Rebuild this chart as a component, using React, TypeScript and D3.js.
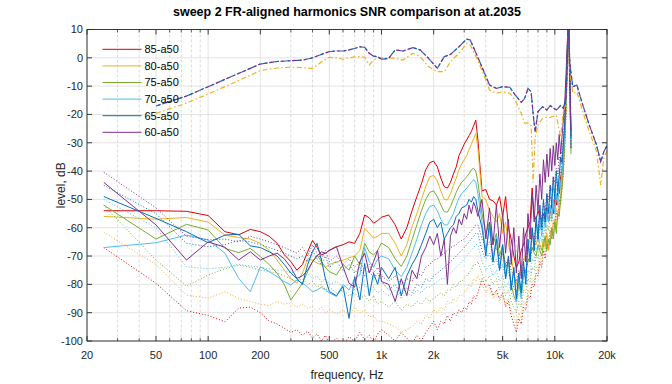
import React from 'react';
import * as d3 from 'd3';

// frequency bins (Hz) shared by all harmonic / noise traces
const freqs = [
  25, 50, 75, 100, 125, 150, 175, 200, 225, 250,
  275, 300, 325, 350, 375, 400, 425, 450, 475, 500,
  550, 600, 650, 700, 750, 800, 850, 900, 950, 1000,
  1100, 1200, 1300, 1400, 1500, 1600, 1700, 1800, 1900, 2000,
  2100, 2200, 2300, 2400, 2500, 2600, 2700, 2800, 2900, 3000,
  3100, 3200, 3300, 3400, 3500, 3600, 3800, 4000, 4200, 4400,
  4600, 4800, 5000, 5200, 5400, 5600, 5800, 6000, 6200, 6400,
  6600, 6800, 7000, 7200, 7400, 7600, 7800, 8000, 8200, 8400,
  8600, 8800, 9000, 9200, 9400, 9600, 9800, 10000, 10200, 10400,
  10600, 10800, 11000, 11200, 11400, 11600, 11800, 12000, 12200, 12400,
];

// harmonics (solid)
const h85 = [
  -54, -54, -54.2, -55.7, -61.4, -62.5, -60.6, -61.4, -63, -65.5,
  -69.5, -72, -75, -73, -68.5, -64.5, -67, -69.6, -69, -68,
  -66.7, -66, -65, -65.5, -62, -55.5, -56.5, -58.4, -57.5, -56.3,
  -55.5, -59, -64, -60, -54, -49, -44.5, -39.5, -37, -36.5,
  -38.5, -42.5, -45.5, -46, -44, -41, -38.5, -34.5, -32.5, -30.5,
  -29, -27.5, -26, -24, -22, -29, -47, -46.5, -50, -50.5,
  -52, -49, -56, -49, -60, -64, -70, -74, -72, -68,
  -66, -62, -60, -58, -46, -56, -57, -54, -56, -58,
  -55, -57, -53, -58, -55, -52, -55, -50, -52, -47,
  -48, -42, -40, -34, -25, -12, 2, 18, -5, -28,
];
const h80 = [
  -56, -57, -56.4, -58, -62.6, -63.5, -64, -65.5, -68, -71.4,
  -75, -78, -79.5, -76, -71, -71.5, -72.5, -73, -74, -73,
  -72, -71.5, -70.6, -70, -68, -60.2, -62, -63.7, -63, -62,
  -62, -65.5, -70, -66, -59.6, -55, -50, -45.5, -42, -41.5,
  -43.5, -47, -50, -50.2, -48, -45, -42.5, -39.5, -37.5, -36,
  -34.5, -32.5, -30.5, -28.5, -26.7, -32, -49, -50, -54, -56,
  -58, -55, -62, -58, -66, -70, -76, -80, -77, -74,
  -72, -69, -67, -64, -60, -65, -66, -63, -66, -68,
  -64, -67, -62, -68, -64, -60, -63, -57, -60, -54,
  -55, -48, -44, -38, -28, -15, 0, 16, -10, -32,
];
const h75 = [
  -52, -64, -58.8, -60.8, -67.3, -68.8, -67.3, -70.2, -73, -76.1,
  -80, -85.5, -82.5, -79.6, -75.5, -72, -69.6, -72, -74, -75.5,
  -76.7, -73, -75, -70, -73, -65.5, -68.5, -69.6, -68, -65.4,
  -67, -71, -73.7, -70, -64.3, -59, -54, -50, -47.5, -47,
  -49, -52, -54.3, -54.5, -52.5, -50, -47.5, -45.5, -44, -43,
  -42, -41, -39.5, -39, -40, -44, -55, -62, -58, -66,
  -62, -70, -66, -74, -72, -80, -84, -86, -80, -84,
  -77, -75, -72, -70, -67, -69, -70, -66, -68, -70,
  -66, -63, -68, -64, -66, -60, -64, -58, -62, -55,
  -56, -50, -46, -40, -30, -18, -2, 15, -12, -34,
];
const h70 = [
  -67, -65.3, -62.6, -64.3, -69, -77.9, -82.6, -73.8, -75.5, -77.3,
  -79, -80.2, -78.5, -79.6, -81, -82.6, -82, -81, -82, -83,
  -84.3, -80, -82, -78, -76.7, -67, -72, -74, -71, -70,
  -71, -75, -77.3, -74, -69, -64, -59, -55, -52.5, -52,
  -54, -57, -59, -59, -57, -55, -52, -49.5, -48, -47,
  -46, -45, -44, -43, -44, -48, -58, -68, -60, -72,
  -63, -75, -67, -78, -71, -82, -75, -86, -78, -85,
  -74, -78, -66, -72, -60, -68, -58, -65, -56, -63,
  -56, -60, -54, -58, -52, -57, -50, -55, -48, -52,
  -44, -46, -40, -35, -26, -14, 0, 15, -8, -30,
];
const h65 = [
  -49, -56.7, -61.4, -65.3, -62.6, -62.3, -66.4, -67, -68.5, -70,
  -73, -76, -78, -80, -73, -68.5, -65.5, -71.4, -78, -82.5,
  -84, -80.8, -92, -77.3, -85.5, -72.6, -84, -76, -80, -74,
  -78, -74, -84, -77, -73, -70, -66, -62, -58, -57,
  -60, -58, -64, -62, -60, -59, -56, -55, -53, -52.6,
  -52, -50, -51, -49, -50, -54, -60, -70, -58, -72,
  -64, -75, -66, -78, -70, -82, -74, -85, -76, -83,
  -72, -80, -64, -72, -60, -68, -56, -64, -52, -60,
  -50, -58, -48, -55, -45, -52, -42, -50, -40, -47,
  -42, -35, -37, -30, -24, -12, 3, 18, -5, -28,
];
const h60 = [
  -44, -59, -71.4, -65, -66.9, -71.4, -68.5, -71.4, -70, -69,
  -71, -74, -77.9, -77, -75, -72, -70, -68.5, -69, -68,
  -66.7, -73.8, -79.6, -81, -72, -69, -76, -72, -68, -79,
  -80, -86, -78, -84, -75, -78, -70, -67, -63, -66,
  -62, -70, -64, -80, -63, -60, -62, -57, -59, -55,
  -57, -52, -55, -51, -53, -56, -50, -64, -53, -66,
  -52, -67, -55, -69, -57, -73, -60, -76, -63, -78,
  -60, -72, -55, -64, -48, -58, -45, -54, -41, -50,
  -36, -44, -34, -42, -32, -40, -31, -38, -30, -36,
  -27, -34, -28, -22, -16, -6, 5, 18, -4, -26,
];

// noise floors (dotted)
const n85 = [
  -67, -79.6, -89.3, -91, -93.2, -88.4, -88, -90, -93, -94,
  -95.5, -97, -96, -98, -96.5, -99, -97.5, -100, -98, -101,
  -99, -101.5, -98.5, -100, -97, -99.5, -98, -100.5, -97.5, -96,
  -98, -100, -97, -99, -101, -98, -100, -97, -95, -93,
  -96, -93, -94, -91, -93, -90, -91, -89, -90, -88,
  -89, -86, -87, -84, -85, -83, -78, -81, -80, -84,
  -82, -85, -83, -88, -86, -91, -94, -97, -92, -94,
  -88, -89, -84, -85, -80, -81, -76, -77, -72, -74,
  -68, -71, -65, -67, -61, -64, -58, -60, -54, -57,
  -50, -52, -46, -40, -32, -20, -5, 12, -10, -32,
];
const n80 = [
  -61.6, -73, -83.8, -84.9, -82.6, -85, -86, -87, -87.5, -86,
  -87, -86.5, -88, -87, -88.5, -88, -89.5, -88, -90, -89,
  -90.5, -89, -91, -88, -90, -89, -91.5, -91, -93, -93,
  -94, -95, -97, -96, -95, -93, -94, -91, -92, -89,
  -90, -88, -89, -86, -87, -85, -86, -84, -84, -83,
  -82, -80, -81, -78, -79, -77, -80, -83, -81, -85,
  -83, -86, -84, -87, -85, -89, -91, -94, -90, -92,
  -86, -87, -82, -83, -78, -79, -74, -75, -70, -72,
  -66, -69, -63, -65, -60, -62, -57, -59, -53, -55,
  -49, -51, -45, -39, -31, -19, -4, 12, -10, -32,
];
const n75 = [
  -52, -71.4, -80.6, -76.7, -74.5, -73.2, -74, -75, -75.5, -76,
  -77, -78, -79, -78, -80, -79, -81, -80, -82, -81,
  -83, -82, -84, -83, -85, -84, -86, -84, -87, -86,
  -88, -86, -89, -87, -88, -86, -87, -85, -86, -85,
  -84, -83, -84, -82, -82, -80, -81, -79, -79, -78,
  -77, -76, -75, -73, -73, -72, -76, -79, -77, -80,
  -78, -82, -80, -84, -82, -86, -88, -90, -86, -88,
  -82, -83, -78, -79, -74, -75, -70, -71, -66, -68,
  -62, -65, -59, -61, -56, -58, -53, -55, -49, -51,
  -45, -47, -42, -36, -28, -17, -3, 12, -10, -32,
];
const n70 = [
  -50, -60, -73.8, -74.5, -74, -73, -73.5, -74, -74.5, -75,
  -75, -76, -75, -77, -76, -78, -77, -79, -78, -80,
  -79, -81, -80, -82, -81, -80, -82, -81, -83, -82,
  -84, -82, -85, -83, -84, -82, -83, -81, -81, -80,
  -79, -78, -78, -76, -76, -75, -74, -73, -72, -71,
  -70, -69, -68, -67, -66, -66, -72, -75, -73, -77,
  -75, -79, -77, -81, -79, -83, -85, -87, -83, -85,
  -79, -80, -75, -76, -71, -72, -67, -68, -63, -65,
  -59, -62, -56, -58, -53, -55, -50, -52, -46, -48,
  -42, -44, -39, -34, -26, -15, -2, 12, -10, -32,
];
const n65 = [
  -45, -55, -65.5, -66.7, -66, -64.5, -65, -66, -67, -68,
  -69, -70, -71, -70, -72, -68, -71, -73, -70, -74,
  -72, -75, -73, -76, -74, -77, -75, -78, -76, -79,
  -82, -80, -84, -81, -83, -80, -81, -78, -79, -77,
  -76, -75, -74, -73, -72, -71, -70, -69, -68, -67,
  -66, -65, -64, -63, -62, -62, -68, -71, -69, -73,
  -71, -75, -73, -77, -75, -79, -81, -83, -79, -81,
  -75, -76, -71, -72, -67, -68, -63, -64, -59, -61,
  -55, -58, -52, -54, -49, -51, -46, -48, -43, -45,
  -39, -41, -36, -31, -24, -13, 0, 12, -10, -32,
];
const n60 = [
  -40.4, -53, -63, -64.3, -64, -65, -63, -64, -65, -66,
  -67, -68, -69, -67, -70, -66, -69, -71, -68, -72,
  -70, -73, -71, -74, -72, -75, -73, -76, -74, -77,
  -79, -77, -80, -78, -79, -76, -77, -74, -73, -71.4,
  -71, -70, -69, -68, -67, -66.5, -66, -65, -64.5, -64,
  -63, -62, -61, -60, -59, -59, -64, -67, -65, -69,
  -67, -71, -69, -73, -71, -75, -77, -79, -75, -77,
  -71, -72, -67, -68, -63, -64, -59, -60, -55, -57,
  -51, -54, -48, -50, -45, -47, -42, -44, -39, -41,
  -35, -37, -32, -28, -22, -12, 0, 12, -10, -32,
];

// frequency response curves (dash-dot)
const frFreqs = [
  50, 75, 100, 150, 200, 250, 300, 350, 400, 450,
  500, 550, 600, 650, 700, 750, 800, 850, 900, 950,
  1000, 1100, 1200, 1330, 1520, 1670, 1870, 2100, 2300, 2500,
  2800, 3100, 3250, 3550, 3900, 4200, 4600, 5000, 5500, 5900,
  6400, 6700, 7000, 7300, 7500, 7700, 8000, 8500, 9000, 9400,
  10200, 10800, 11200, 11600, 11800, 12000, 12200, 12700, 13400, 14500,
  15800, 17400, 18400, 19200, 20000,
];
const frUpper = [
  -17, -13.5, -10.2, -5.5, -2.2, -1.3, -1, -0.8, 0, 1.2,
  2.2, 2.4, 2.4, 2.8, 3.3, 3.9, 3.7, 1.6, 0.6, 0.4,
  -0.5, -0.2, 2.8, 2.4, 3.6, 2.8, -0.2, -3.7, 0.4, 1.2,
  3.9, 6.6, 6.3, 1, -4.9, -9.6, -10.8, -10.2, -10.4, -13.1,
  -15.7, -14.3, -10.8, -12, -20, -26.1, -19, -17.3, -18.4, -16.9,
  -18.4, -16.9, -17.8, -14, -2, 12, -2, -10.2, -9.6, -16.7,
  -23.7, -30.8, -36.7, -33.1, -31,
];
const frLower = [
  -19.6, -16, -12.8, -8, -4.5, -3.6, -3.3, -3.5, -3.7, -1.5,
  0.2, 0, -0.5, 0, 0.3, 0.4, 0.2, -2.5, -0.8, 0,
  0, 0, -0.2, -0.8, 1.6, 0.4, -3.1, -4.9, -4.9, -1.4,
  1.6, 5.1, 4.5, -0.2, -6.1, -11.4, -12.5, -12, -12.5, -14.9,
  -19.6, -23.1, -23, -24, -44, -28, -23.7, -21.4, -21, -21,
  -20.3, -28, -19, -16, -4, 10, -5, -12.5, -12, -19,
  -26, -33, -45, -35, -33,
];

const labels = ['85-a50', '80-a50', '75-a50', '70-a50', '65-a50', '60-a50'];
const colors = ['#dd0000', '#EDB120', '#77AC30', '#4DBEEE', '#0072BD', '#7E2F8E'];
const harmonics = [h85, h80, h75, h70, h65, h60];
const noise = [n85, n80, n75, n70, n65, n60];

const xMajor = [20, 50, 100, 200, 500, 1000, 2000, 5000, 10000, 20000];
const xMajorLabels = ['20', '50', '100', '200', '500', '1k', '2k', '5k', '10k', '20k'];
const xMinor = [30, 40, 60, 70, 80, 90, 300, 400, 600, 700, 800, 900, 3000, 4000, 6000, 7000, 8000, 9000];
const yTicks = [10, 0, -10, -20, -30, -40, -50, -60, -70, -80, -90, -100];

const FONT = 'Liberation Sans, Arial, Helvetica, sans-serif';
const AX = '#262626';

export default function App() {
  const left = 87, right = 607, top = 29.5, bottom = 341;
  const x = d3.scaleLog().domain([20, 20000]).range([left, right]);
  const y = d3.scaleLinear().domain([-100, 10]).range([bottom, top]);

  const hLine = d3.line<number>().x((_, i) => x(freqs[i])).y(d => y(d));
  const frLine = d3.line<number>().x((_, i) => x(frFreqs[i])).y(d => y(d));

  return (
    <div style={{ position: 'absolute', left: 0, top: 0 }}>
      <svg width={672} height={384} style={{ display: 'block', background: '#fff' }} fontFamily={FONT}>
        <defs>
          <clipPath id="plot">
            <rect x={left} y={top} width={right - left} height={bottom - top} />
          </clipPath>
        </defs>
        <rect x={0} y={0} width={672} height={384} fill="#fff" />

        {/* grid */}
        {xMinor.map(f => (
          <line key={'mg' + f} x1={x(f)} x2={x(f)} y1={top} y2={bottom} stroke="#d2d2d2" strokeWidth={0.8} strokeDasharray="3 2" />
        ))}
        {xMajor.map(f => (
          <line key={'xg' + f} x1={x(f)} x2={x(f)} y1={top} y2={bottom} stroke="#dcdcdc" strokeWidth={0.8} />
        ))}
        {yTicks.map(v => (
          <line key={'yg' + v} x1={left} x2={right} y1={y(v)} y2={y(v)} stroke="#dcdcdc" strokeWidth={0.8} />
        ))}

        {/* data */}
        <g clipPath="url(#plot)" fill="none">
          {harmonics.map((h, i) => (
            <g key={'s' + i}>
              <path d={hLine(h) || ''} stroke={colors[i]} strokeWidth={1} strokeLinejoin="round" />
              <path d={hLine(noise[i]) || ''} stroke={colors[i]} strokeWidth={1} strokeDasharray="1 2" />
            </g>
          ))}
          <path d={frLine(frLower) || ''} stroke={colors[1]} strokeWidth={1.2} strokeDasharray="5 2.5 1.5 2.5" />
          <path d={frLine(frUpper) || ''} stroke={colors[4]} strokeWidth={1.2} strokeDasharray="5 2.5 1.5 2.5" />
          <path d={frLine(frUpper) || ''} stroke={colors[5]} strokeWidth={1.2} strokeDasharray="5 2.5 1.5 2.5" strokeDashoffset={5} />
        </g>

        {/* axes box */}
        <rect x={left} y={top} width={right - left} height={bottom - top} fill="none" stroke={AX} strokeWidth={0.9} />
        {xMajor.map(f => (
          <g key={'xt' + f}>
            <line x1={x(f)} x2={x(f)} y1={bottom} y2={bottom - 5} stroke={AX} strokeWidth={0.9} />
            <line x1={x(f)} x2={x(f)} y1={top} y2={top + 5} stroke={AX} strokeWidth={0.9} />
          </g>
        ))}
        {xMinor.map(f => (
          <g key={'xm' + f}>
            <line x1={x(f)} x2={x(f)} y1={bottom} y2={bottom - 3} stroke={AX} strokeWidth={0.7} />
            <line x1={x(f)} x2={x(f)} y1={top} y2={top + 3} stroke={AX} strokeWidth={0.7} />
          </g>
        ))}
        {yTicks.map(v => (
          <g key={'yt' + v}>
            <line x1={left} x2={left + 5} y1={y(v)} y2={y(v)} stroke={AX} strokeWidth={0.9} />
            <line x1={right} x2={right - 5} y1={y(v)} y2={y(v)} stroke={AX} strokeWidth={0.9} />
            <text x={left - 4} y={y(v)} dy="0.35em" textAnchor="end" fontSize={11} fill={AX}>{v}</text>
          </g>
        ))}
        {xMajor.map((f, i) => (
          <text key={'xl' + f} x={x(f)} y={bottom + 14} dy="0.35em" textAnchor="middle" fontSize={11} fill={AX}>
            {xMajorLabels[i]}
          </text>
        ))}

        {/* labels */}
        <text x={(left + right) / 2} y={12} dy="0.35em" textAnchor="middle" fontSize={12.5} fontWeight="bold" fill="#000">
          sweep 2 FR-aligned harmonics SNR comparison at at.2035
        </text>
        <text x={(left + right) / 2} y={375} dy="0.35em" textAnchor="middle" fontSize={12} fill={AX}>
          frequency, Hz
        </text>
        <text transform={`translate(61,${(top + bottom) / 2}) rotate(-90)`} dy="0.35em" textAnchor="middle" fontSize={12} fill={AX}>
          level, dB
        </text>

        {/* legend */}
        {labels.map((l, i) => (
          <g key={'lg' + i} transform={`translate(0,${49.3 + i * 16.6})`}>
            <line x1={102.5} x2={141.5} y1={0} y2={0} stroke={colors[i]} strokeWidth={1} />
            <text x={144.5} y={0} dy="0.35em" fontSize={11} fill="#000">{l}</text>
          </g>
        ))}
      </svg>
    </div>
  );
}
